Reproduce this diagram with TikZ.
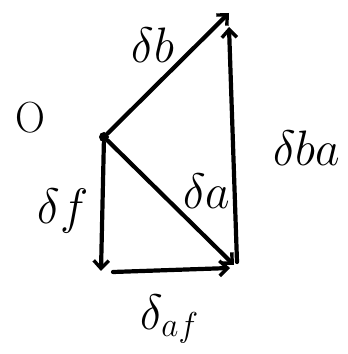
\documentclass[tikz,border=0pt]{standalone}
\usepackage{graphicx}
\usetikzlibrary{arrows.meta}
\newcommand{\hw}[1]{\scalebox{2.3}[2.4]{$#1$}}
\begin{document}
\begin{tikzpicture}[x=1pt,y=1pt,
  vec/.style={line width=4.2pt,line cap=round,-{Straight Barb[length=8pt,width=15pt,line width=3.4pt]}},
  lbl/.style={font=\fontsize{20.74}{24}\selectfont,inner sep=0pt}]
\useasboundingbox (0,0) rectangle (348,354);
\node[circle,fill,inner sep=0pt,minimum size=10pt] (P) at (104,217) {};
\coordinate (T) at (229,341);
\coordinate (BL) at (101,83);
\coordinate (BR) at (234,89);
\draw[vec] (P) -- (T);
\draw[vec] (P) -- (BL);
\draw[vec] (P) -- (BR);
\draw[vec] ([xshift=12pt,yshift=-1pt]BL) -- ([xshift=-4pt,yshift=-3pt]BR);
\draw[vec] ([xshift=3pt,yshift=3pt]BR) -- ([yshift=-14pt]T);
\node[lbl] (lb) at (153,309) {\hw{\delta b}};
\node[lbl] (lo) at (30,236) {\scalebox{2.0}[2.1]{O}};
\node[lbl] (lba) at (307,206) {\hw{\delta ba}};
\node[lbl] (la) at (207,163) {\hw{\delta a}};
\node[lbl] (lf) at (63,143) {\hw{\delta f}};
\node[lbl] (laf) at (170,35) {\hw{\delta_{af}}};
\end{tikzpicture}
\end{document}
